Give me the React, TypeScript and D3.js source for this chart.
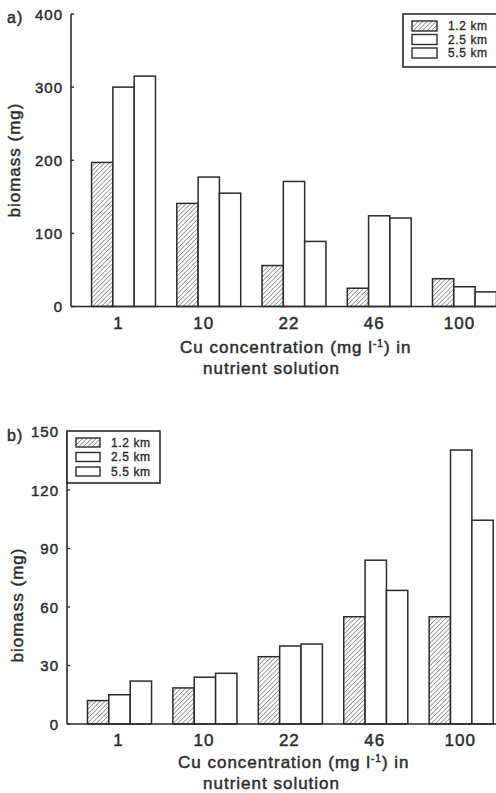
import React from "react";
import * as d3 from "d3";

const concentrations = ["1", "10", "22", "46", "100"];
const distances = ["1.2 km", "2.5 km", "5.5 km"];

// panel a) biomass (mg)
const biomassA_1_2 = [197, 141, 56, 25, 38];
const biomassA_2_5 = [300, 177, 171, 124, 27];
const biomassA_5_5 = [315, 155, 89, 121, 20];
const ticksA = [0, 100, 200, 300, 400];

// panel b) biomass (mg)
const biomassB_1_2 = [12, 18.5, 34.5, 55, 55];
const biomassB_2_5 = [15, 24, 40, 84, 140.5];
const biomassB_5_5 = [22, 26, 41, 68.5, 104.5];
const ticksB = [0, 30, 60, 90, 120, 150];

const FONT = "'Liberation Sans', Arial, Helvetica, sans-serif";
const INK = "#2b2b2b";

interface PanelProps {
  label: string;
  series: number[][];
  ticks: number[];
  axisX: number;
  top: number;
  bottom: number;
  bandRange: [number, number];
  tickDx: number;
  tickLabelY: number;
  titleY: number;
  titleX1: number;
  titleX2: number;
  yTitleX: number;
  yTitleY: number;
  legend: { x: number; y: number; w: number; h: number; sw: number; sh: number; step: number; textDx: number };
}

function Panel(p: PanelProps) {
  const y = d3
    .scaleLinear()
    .domain([0, d3.max(p.ticks) as number])
    .range([p.bottom, p.top]);
  const x = d3
    .scaleBand()
    .domain(concentrations)
    .range(p.bandRange)
    .paddingInner(0.25)
    .paddingOuter(0.125);
  const sub = d3.scaleBand().domain(distances).range([0, x.bandwidth()]);

  const L = p.legend;
  return (
    <g fontFamily={FONT} fill={INK}>
      {/* text gets a hairline stroke so it reads as heavy as the scan */}
      <g stroke={INK} strokeWidth={0.45}>
        <text x={7} y={p.top + 9} fontSize={16} letterSpacing={1}>
          {p.label}
        </text>
        {p.ticks.map((t) => (
          <text
            key={t}
            x={p.axisX - 8}
            y={y(t)}
            fontSize={15}
            letterSpacing={1}
            textAnchor="end"
            dominantBaseline="central"
          >
            {t}
          </text>
        ))}
        {concentrations.map((c) => (
          <text
            key={c}
            x={(x(c) as number) + x.bandwidth() / 2 + p.tickDx}
            y={p.tickLabelY}
            fontSize={17}
            letterSpacing={1}
            textAnchor="middle"
          >
            {c}
          </text>
        ))}
        <text x={p.titleX1} y={p.titleY} fontSize={17} letterSpacing={1}>
          Cu concentration (mg l
          <tspan fontSize={10} dy={-6}>
            -1
          </tspan>
          <tspan dy={6}>) in</tspan>
        </text>
        <text x={p.titleX2} y={p.titleY + 21} fontSize={17} letterSpacing={1}>
          nutrient solution
        </text>
        <text
          transform={`translate(${p.yTitleX},${p.yTitleY}) rotate(-90)`}
          fontSize={17}
          letterSpacing={1}
          textAnchor="middle"
        >
          biomass (mg)
        </text>
      </g>

      {/* bars */}
      {concentrations.map((c, i) =>
        distances.map((d, j) => {
          const v = p.series[j][i];
          return (
            <rect
              key={c + d}
              x={(x(c) as number) + (sub(d) as number)}
              y={y(v)}
              width={sub.bandwidth()}
              height={y(0) - y(v)}
              fill={j === 0 ? "url(#hatch)" : "#fff"}
              stroke={INK}
              strokeWidth={1.5}
            />
          );
        })
      )}

      {/* axes */}
      <line x1={p.axisX} x2={p.axisX} y1={p.top} y2={p.bottom} stroke={INK} strokeWidth={1.6} />
      <line x1={p.axisX} x2={496} y1={p.bottom} y2={p.bottom} stroke={INK} strokeWidth={1.6} />
      {p.ticks.map((t) => (
        <line key={t} x1={p.axisX} x2={p.axisX + 3} y1={y(t)} y2={y(t)} stroke={INK} strokeWidth={1.4} />
      ))}

      {/* legend */}
      <rect x={L.x} y={L.y} width={L.w} height={L.h} fill="#fff" stroke={INK} strokeWidth={1.6} />
      {distances.map((d, j) => (
        <g key={d}>
          <rect
            x={L.x + 9}
            y={L.y + 7 + j * L.step}
            width={L.sw}
            height={L.sh}
            fill={j === 0 ? "url(#hatch)" : "#fff"}
            stroke={INK}
            strokeWidth={1.4}
          />
          <text
            x={L.x + L.textDx}
            y={L.y + 7 + j * L.step + L.sh / 2}
            fontSize={12}
            letterSpacing={0.6}
            dominantBaseline="central"
            stroke={INK}
            strokeWidth={0.35}
          >
            {d}
          </text>
        </g>
      ))}
    </g>
  );
}

export default function App() {
  return (
    <svg
      width={496}
      height={793}
      style={{ position: "absolute", left: 0, top: 0, background: "#fff" }}
    >
      <defs>
        <pattern id="hatch" patternUnits="userSpaceOnUse" width={3.2} height={3.2} patternTransform="rotate(45)">
          <rect width={3.2} height={3.2} fill="#fff" />
          <line x1={0} y1={0} x2={0} y2={3.2} stroke="#555" strokeWidth={1.1} />
        </pattern>
      </defs>
      <rect width={496} height={793} fill="#fff" />
      <Panel
        label="a)"
        series={[biomassA_1_2, biomassA_2_5, biomassA_5_5]}
        ticks={ticksA}
        axisX={71}
        top={14}
        bottom={306.5}
        bandRange={[80.9, 507.1]}
        tickDx={-5}
        tickLabelY={329}
        titleY={353}
        titleX1={180}
        titleX2={203}
        yTitleX={20}
        yTitleY={160}
        legend={{ x: 403, y: 14, w: 100, h: 53, sw: 25, sh: 10, step: 13.5, textDx: 45 }}
      />
      <Panel
        label="b)"
        series={[biomassB_1_2, biomassB_2_5, biomassB_5_5]}
        ticks={ticksB}
        axisX={67}
        top={431.5}
        bottom={724}
        bandRange={[76.8, 503.9]}
        tickDx={-1}
        tickLabelY={746}
        titleY={768}
        titleX1={178}
        titleX2={203}
        yTitleX={23}
        yTitleY={605}
        legend={{ x: 67, y: 431, w: 93, h: 52, sw: 24, sh: 9, step: 14.5, textDx: 44 }}
      />
    </svg>
  );
}
